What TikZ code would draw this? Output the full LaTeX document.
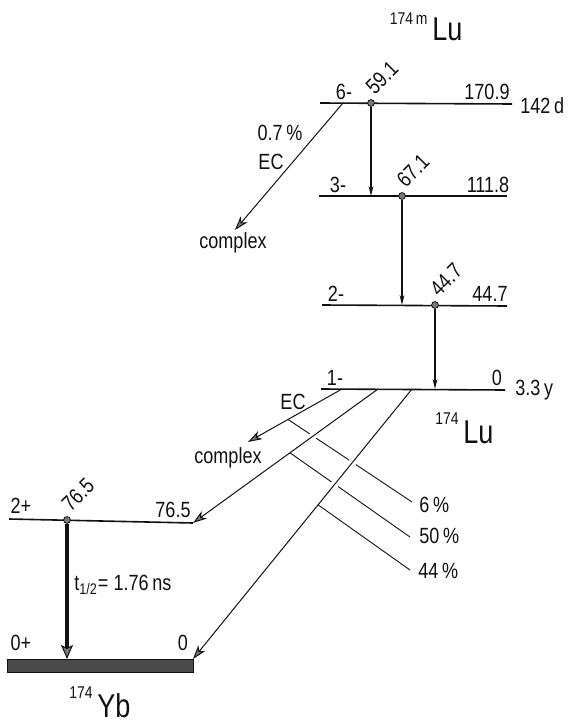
\documentclass[tikz,border=0pt]{standalone}
\usepackage{fontspec}
\setmainfont{Liberation Sans}[FakeStretch=0.82]
\usetikzlibrary{arrows.meta,calc,intersections}
\definecolor{Ink}{HTML}{111111}
\definecolor{Tip}{HTML}{7A7A7A}
\definecolor{Bar}{HTML}{4A4A4A}

\tikzset{
  level/.style={draw=Ink,line width=0.8pt},
  gam/.style={draw=Ink,line width=0.6pt,-{Stealth[length=5pt,width=2.4pt]}},
  gamthick/.style={draw=Ink,line width=2.2pt,-{Stealth[length=7pt,width=6pt,inset=1.5pt,line width=0.5pt,fill=Tip]}},
  ecarr/.style={draw=Ink,line width=0.5pt,-{Stealth[length=7pt,width=4.5pt,inset=2pt,fill=Tip]}},
  lead/.style={draw=Ink,line width=0.45pt},
  dotnode/.style={circle,draw=Ink,fill=Tip,inner sep=0pt,minimum size=3.4pt},
  lbl/.style={font=\fontsize{11}{12}\selectfont,inner sep=0pt,text=Ink},
  rotlbl/.style={lbl,rotate=45,anchor=south west},
  iso/.style={font=\fontsize{16.5}{18}\selectfont,inner sep=0pt,text=Ink},
  isonum/.style={font=\fontsize{8.5}{9}\selectfont,inner sep=0pt,text=Ink}
}

\begin{document}
\begin{tikzpicture}[x=0.5pt,y=-0.5pt]
  \useasboundingbox (0,0) rectangle (568,722);

  % levels
  \coordinate (sixL) at (320,103);   \coordinate (sixR) at (512,104);
  \coordinate (thrL) at (319,196);   \coordinate (thrR) at (507,196);
  \coordinate (twoL) at (322,305);   \coordinate (twoR) at (507,306);
  \coordinate (oneL) at (321,389);   \coordinate (oneR) at (505,390);
  \coordinate (ybtwoL) at (9,519);   \coordinate (ybtwoR) at (193,523);
  \coordinate (ybzeroL) at (7,659);  \coordinate (ybzeroR) at (193,659);
  \foreach \a/\b in {sixL/sixR,thrL/thrR,twoL/twoR,oneL/oneR,ybtwoL/ybtwoR}
    \draw[level] (\a) -- (\b);
  \draw[draw=Ink,fill=Bar,line width=0.5pt] (ybzeroL) rectangle ($(ybzeroR)+(0,13)$);

  % gamma transitions
  \node[dotnode] (d591) at (371,103) {};
  \node[dotnode] (d671) at (402,196) {};
  \node[dotnode] (d447) at (435,305) {};
  \node[dotnode] (d765) at (67,520) {};
  \draw[gam] (d591) -- (d591 |- thrL);
  \draw[gam] (d671) -- (d671 |- twoL);
  \draw[gam] (d447) -- (d447 |- oneL);
  \draw[gamthick] (d765) -- (d765 |- ybzeroL);

  % EC and decay branches
  \coordinate (ecsix) at (343,103);  \coordinate (ecsixend) at (235,230);
  \coordinate (econe) at (342,389);  \coordinate (econeend) at (248,442);
  \coordinate (brtwo) at (378,389);
  \coordinate (brzero) at (412,389);
  \draw[ecarr] (ecsix) -- (ecsixend);
  \draw[ecarr] (econe) -- (econeend);
  \draw[ecarr,name path=brb] (brtwo) -- (ybtwoR);
  \draw[ecarr,name path=brc] (brzero) -- (ybzeroR);

  % branching leaders
  \coordinate (sixpct) at (412,502);
  \coordinate (fiftypct) at (410,537);
  \coordinate (fortypct) at (410,570);
  \coordinate (sixst) at ($(econe)!0.574!(econeend)$);
  \coordinate (fiftyst) at ($(brtwo)!0.476!(ybtwoR)$);
  \coordinate (fortyst) at ($(brzero)!0.429!(ybzeroR)$);
  \path[name path=ldsix] (sixst) -- (sixpct);
  \path[name path=ldfifty] (fiftyst) -- (fiftypct);
  \path[name intersections={of=ldsix and brb,by=xa}];
  \path[name intersections={of=ldsix and brc,by=xb}];
  \path[name intersections={of=ldfifty and brc,by=xc}];
  \draw[lead] (sixst) -- ($(xa)!2pt!(sixst)$) ($(xa)!2pt!(sixpct)$) -- ($(xb)!2pt!(sixst)$)
    ($(xb)!2pt!(sixpct)$) -- (sixpct);
  \draw[lead] (fiftyst) -- ($(xc)!2pt!(fiftyst)$) ($(xc)!2pt!(fiftypct)$) -- (fiftypct);
  \draw[lead] (fortyst) -- (fortypct);

  % level labels
  \node[lbl,anchor=south] (jsix) at (344,100) {6-};
  \node[lbl,anchor=south] (esix) at (487,100) {170.9};
  \node[lbl,anchor=west] (tsix) at (520,106) {142\,d};
  \node[lbl,anchor=south] (jthr) at (338,193) {3-};
  \node[lbl,anchor=south] (ethr) at (488,193) {111.8};
  \node[lbl,anchor=south] (jtwo) at (336,302) {2-};
  \node[lbl,anchor=south] (etwo) at (490,302) {44.7};
  \node[lbl,anchor=south] (jone) at (335,386) {1-};
  \node[lbl,anchor=south] (eone) at (497,386) {0};
  \node[lbl,anchor=west] (tone) at (515,390) {3.3\,y};
  \node[lbl,anchor=south] (jybtwo) at (21,514) {2+};
  \node[lbl,anchor=south] (eybtwo) at (173,518) {76.5};
  \node[lbl,anchor=south] (jybzero) at (21,651) {0+};
  \node[lbl,anchor=south] (eybzero) at (183,651) {0};

  % gamma energies
  \node[rotlbl] (g591) at (375,96) {59.1};
  \node[rotlbl] (g671) at (406,189) {67.1};
  \node[rotlbl] (g447) at (439,298) {44.7};
  \node[rotlbl] (g765) at (71,513) {76.5};
  \node[lbl,anchor=west] (thalf) at (74,585) {t\textsubscript{1/2}= 1.76\,ns};

  % branch labels
  \node[lbl] (ecpct) at (280,133) {0.7\,\%};
  \node[lbl] (ectop) at (271,162) {EC};
  \node[lbl] (cxtop) at (233,243) {complex};
  \node[lbl] (ecbot) at (293,402) {EC};
  \node[lbl] (cxbot) at (228,458) {complex};
  \node[lbl,anchor=west] (psix) at (419,505) {6\,\%};
  \node[lbl,anchor=west] (pfifty) at (419,536) {50\,\%};
  \node[lbl,anchor=west] (pforty) at (418,571) {44\,\%};

  % nuclides
  \node[iso,anchor=base west] (lum) at (432,41) {Lu};
  \node[isonum,anchor=base east] (lumnum) at (428,25) {174\,m};
  \node[iso,anchor=base west] (lug) at (463,443) {Lu};
  \node[isonum,anchor=base east] (lugnum) at (459,424) {174};
  \node[iso,anchor=base west] (yb) at (97,717) {Yb};
  \node[isonum,anchor=base east] (ybnum) at (93,698) {174};
\end{tikzpicture}
\end{document}
